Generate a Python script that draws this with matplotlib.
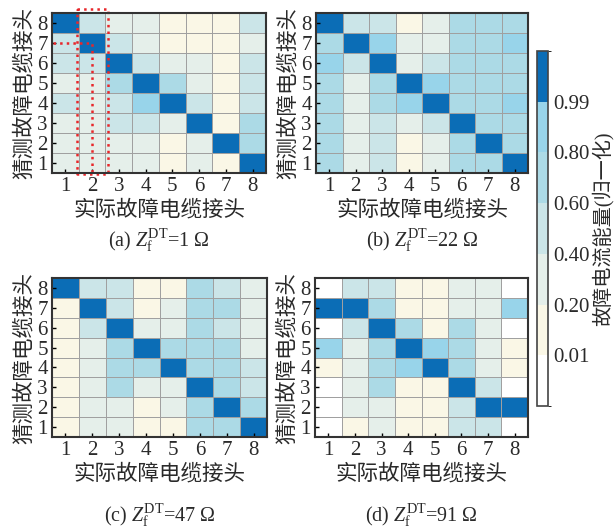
import matplotlib
matplotlib.use('Agg')
import matplotlib.pyplot as plt
import numpy as np
from matplotlib.colors import ListedColormap, BoundaryNorm

plt.rcParams['font.family'] = ['Liberation Serif', 'Noto Sans CJK SC']
plt.rcParams['mathtext.fontset'] = 'custom'
plt.rcParams['mathtext.rm'] = 'Liberation Serif'
plt.rcParams['mathtext.it'] = 'Liberation Serif:italic'

# 列: 实际接头 1..8, 行: 猜测接头 8 (上) .. 1 (下)
labels = [1, 2, 3, 4, 5, 6, 7, 8]
bounds = [0, 0.01, 0.2, 0.4, 0.6, 0.8, 0.99, 1.0]
cb_ticks = [0.01, 0.2, 0.4, 0.6, 0.8, 0.99]
cb_ticklabels = ['0.01', '0.20', '0.40', '0.60', '0.80', '0.99']
colors = ['#ffffff', '#faf7e6', '#e5efea', '#cbe5e8', '#acdae6', '#98d4ea', '#0b6db6']

z_a = [
    [1.0, 0.5, 0.3, 0.3, 0.1, 0.1, 0.1, 0.5],
    [0.5, 1.0, 0.5, 0.3, 0.1, 0.1, 0.1, 0.3],
    [0.5, 0.5, 1.0, 0.5, 0.3, 0.3, 0.1, 0.5],
    [0.3, 0.3, 0.7, 1.0, 0.7, 0.3, 0.1, 0.5],
    [0.5, 0.3, 0.5, 0.9, 1.0, 0.5, 0.1, 0.5],
    [0.3, 0.3, 0.5, 0.5, 0.3, 1.0, 0.1, 0.7],
    [0.3, 0.3, 0.3, 0.3, 0.1, 0.3, 1.0, 0.7],
    [0.3, 0.3, 0.3, 0.3, 0.1, 0.3, 0.1, 1.0],
]
z_b = [
    [1.0, 0.5, 0.5, 0.1, 0.3, 0.7, 0.7, 0.7],
    [0.7, 1.0, 0.9, 0.3, 0.3, 0.7, 0.7, 0.9],
    [0.9, 0.5, 1.0, 0.3, 0.5, 0.7, 0.7, 0.7],
    [0.7, 0.3, 0.7, 1.0, 0.9, 0.7, 0.7, 0.7],
    [0.7, 0.3, 0.7, 0.9, 1.0, 0.7, 0.7, 0.9],
    [0.7, 0.3, 0.5, 0.3, 0.5, 1.0, 0.7, 0.7],
    [0.7, 0.3, 0.5, 0.1, 0.3, 0.7, 1.0, 0.7],
    [0.7, 0.3, 0.5, 0.1, 0.3, 0.7, 0.7, 1.0],
]
z_c = [
    [1.0, 0.5, 0.5, 0.1, 0.1, 0.7, 0.5, 0.3],
    [0.1, 1.0, 0.5, 0.1, 0.3, 0.7, 0.7, 0.3],
    [0.1, 0.5, 1.0, 0.3, 0.3, 0.7, 0.5, 0.3],
    [0.1, 0.3, 0.7, 1.0, 0.7, 0.7, 0.7, 0.3],
    [0.1, 0.3, 0.7, 0.7, 1.0, 0.7, 0.7, 0.5],
    [0.1, 0.3, 0.7, 0.3, 0.3, 1.0, 0.7, 0.5],
    [0.1, 0.3, 0.3, 0.1, 0.3, 0.7, 1.0, 0.7],
    [0.1, 0.3, 0.3, 0.1, 0.1, 0.7, 0.7, 1.0],
]
z_d = [
    [0.005, 0.5, 0.5, 0.1, 0.1, 0.3, 0.3, 0.005],
    [1.0, 1.0, 0.7, 0.1, 0.1, 0.3, 0.3, 0.9],
    [0.005, 0.5, 1.0, 0.7, 0.1, 0.7, 0.3, 0.005],
    [0.9, 0.3, 0.7, 1.0, 0.9, 0.7, 0.3, 0.1],
    [0.1, 0.3, 0.7, 0.9, 1.0, 0.7, 0.3, 0.1],
    [0.005, 0.3, 0.7, 0.1, 0.1, 1.0, 0.5, 0.005],
    [0.005, 0.3, 0.3, 0.1, 0.1, 0.5, 1.0, 1.0],
    [0.005, 0.1, 0.3, 0.1, 0.1, 0.5, 0.5, 0.005],
]
sup = '$Z_{\\mathrm{f}}^{\\mathrm{DT}}$'
captions = ['(a) ' + sup + '=1 Ω', '(b) ' + sup + '=22 Ω',
            '(c) ' + sup + '=47 Ω', '(d) ' + sup + '=91 Ω']

cmap = ListedColormap(colors)
norm = BoundaryNorm(bounds, cmap.N)

W, H = 616, 528
fig = plt.figure(figsize=(6.16, 5.28), dpi=100)

# 像素位置 (左, 上, 右, 下)
boxes = [(52, 13, 266, 173), (316, 13, 528, 173), (52, 278, 267, 437), (315, 278, 528, 437)]
cap_y = [240, 240, 515, 515]
txt_col = '#2a2a2a'

edges = np.arange(0.5, 9.5, 1)
for i, z in enumerate([z_a, z_b, z_c, z_d]):
    l, t, r, b = boxes[i]
    ax = fig.add_axes([l / W, 1 - b / H, (r - l) / W, (b - t) / H])
    zz = np.array(z)[::-1]
    mesh = ax.pcolormesh(edges, edges, zz, cmap=cmap, norm=norm,
                         edgecolors='#a0a0a0', linewidth=0.7)
    ax.set_xlim(0.5, 8.5)
    ax.set_ylim(0.5, 8.5)
    ax.set_xticks(labels)
    ax.set_yticks(labels)
    ax.set_xticklabels([str(v) for v in labels], fontsize=15, color=txt_col)
    ax.set_yticklabels([str(v) for v in labels], fontsize=15, color=txt_col)
    ax.tick_params(direction='in', length=3, width=1, pad=3, top=False, right=False)
    for s in ax.spines.values():
        s.set_linewidth(1.5)
        s.set_color('#333333')
    ax.set_xlabel('实际故障电缆接头', fontsize=15.5, labelpad=3, color=txt_col)
    ax.set_ylabel('猜测故障电缆接头', fontsize=15.5, labelpad=2, color=txt_col)
    fig.text((l + r) / 2 / W, 1 - cap_y[i] / H, captions[i], ha='center', va='center',
             fontsize=14.5, color=txt_col)
    if i == 0:
        # 红色虚线标注
        kw = dict(color='#e8262a', linestyle=':', linewidth=1.8, clip_on=False)
        ax.plot([1.43, 2.59, 2.59, 1.43, 1.43], [8.68, 8.68, 0.45, 0.45, 8.68], **kw)
        ax.plot([0.55, 2.0, 2.0], [7.0, 7.0, 0.45], **kw)

cax = fig.add_axes([537 / W, 1 - 406 / H, 11 / W, 355 / H])
cb = fig.colorbar(mesh, cax=cax, boundaries=bounds, spacing='uniform', ticks=cb_ticks)
cb.ax.set_yticklabels(cb_ticklabels, fontsize=15, color=txt_col)
cb.ax.tick_params(length=0, pad=4)
cb.outline.set_linewidth(1.2)
cb.outline.set_edgecolor('#444444')
cb.set_label('故障电流能量(归一化)', fontsize=14.5, labelpad=1, color=txt_col)

fig.savefig('out.png', dpi=100)
